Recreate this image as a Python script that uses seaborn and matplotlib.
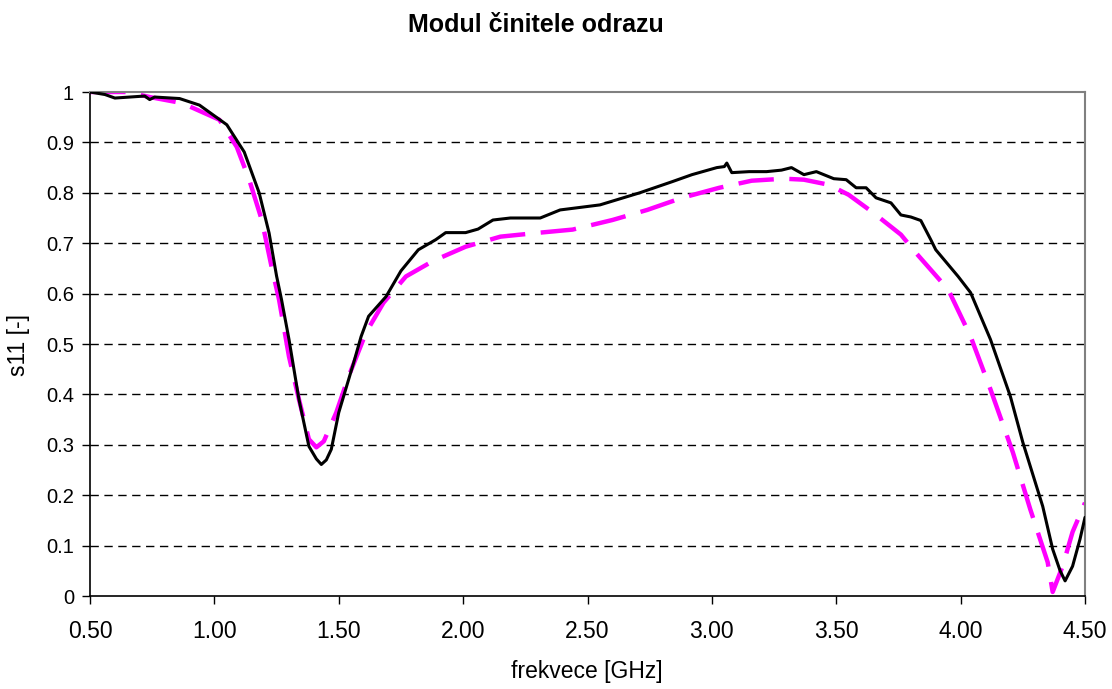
import numpy as np
import pandas as pd
import seaborn as sns
import matplotlib.pyplot as plt

# measured curve (black)
f_meas = [0.50, 0.56, 0.60, 0.66, 0.72, 0.74, 0.76, 0.86, 0.94, 1.05, 1.12, 1.18, 1.22, 1.25,
          1.27, 1.30, 1.34, 1.38, 1.41, 1.43, 1.45, 1.47, 1.50, 1.56, 1.59, 1.62, 1.69, 1.75,
          1.82, 1.89, 1.93, 2.01, 2.06, 2.12, 2.19, 2.31, 2.39, 2.55, 2.71, 2.84, 2.92,
          3.02, 3.05, 3.06, 3.08, 3.15, 3.22, 3.28, 3.32, 3.37, 3.42, 3.49, 3.54, 3.58,
          3.62, 3.66, 3.72, 3.76, 3.80, 3.84, 3.88, 3.90, 3.99, 4.04, 4.12, 4.20, 4.25,
          4.33, 4.37, 4.40, 4.42, 4.45, 4.48, 4.50]
s_meas = [1.000, 0.995, 0.988, 0.990, 0.992, 0.985, 0.990, 0.987, 0.974, 0.935, 0.881, 0.800, 0.720, 0.635,
          0.588, 0.509, 0.390, 0.297, 0.272, 0.261, 0.270, 0.291, 0.364, 0.463, 0.515, 0.555, 0.594, 0.645,
          0.687, 0.707, 0.721, 0.721, 0.728, 0.746, 0.750, 0.750, 0.766, 0.776, 0.800, 0.822, 0.836,
          0.850, 0.852, 0.859, 0.840, 0.842, 0.842, 0.845, 0.850, 0.836, 0.842, 0.828, 0.826, 0.810,
          0.810, 0.790, 0.780, 0.756, 0.752, 0.745, 0.707, 0.687, 0.634, 0.602, 0.509, 0.396, 0.305,
          0.178, 0.093, 0.050, 0.030, 0.059, 0.113, 0.156]

# simulated curve (magenta dashed)
f_sim = [0.50, 0.65, 0.74, 0.87, 1.02, 1.09, 1.14, 1.19, 1.23, 1.26, 1.30, 1.34, 1.38, 1.41,
         1.44, 1.49, 1.54, 1.61, 1.68, 1.77, 1.88, 2.01, 2.15, 2.31, 2.44, 2.60, 2.74, 2.88,
         3.03, 3.16, 3.29, 3.37, 3.47, 3.55, 3.65, 3.76, 3.82, 3.95, 4.04, 4.12, 4.21, 4.28,
         4.35, 4.37, 4.41, 4.45, 4.50]
s_sim = [1.000, 1.000, 0.990, 0.978, 0.945, 0.891, 0.826, 0.747, 0.653, 0.588, 0.475, 0.390, 0.311, 0.295,
         0.307, 0.364, 0.436, 0.523, 0.582, 0.634, 0.665, 0.693, 0.713, 0.721, 0.727, 0.746, 0.766, 0.790,
         0.810, 0.824, 0.828, 0.826, 0.816, 0.796, 0.760, 0.717, 0.681, 0.608, 0.515, 0.410, 0.285, 0.172,
         0.067, 0.008, 0.059, 0.127, 0.185]

x_ticks = [0.5, 1.0, 1.5, 2.0, 2.5, 3.0, 3.5, 4.0, 4.5]
y_ticks = [0, 0.1, 0.2, 0.3, 0.4, 0.5, 0.6, 0.7, 0.8, 0.9, 1]
y_labels = ['0', '0.1', '0.2', '0.3', '0.4', '0.5', '0.6', '0.7', '0.8', '0.9', '1']

sns.set_style('white')
plt.rcParams['font.family'] = ['Liberation Sans', 'DejaVu Sans']
plt.rcParams['text.color'] = 'black'
plt.rcParams['axes.labelcolor'] = 'black'
plt.rcParams['xtick.color'] = 'black'
plt.rcParams['ytick.color'] = 'black'

fig = plt.figure(figsize=(11.12, 6.89), dpi=100)
ax = fig.add_axes([90 / 1112, 1 - 596 / 689, 995 / 1112, 504 / 689])

# gridlines
for y in y_ticks[1:-1]:
    ax.axhline(y, color='black', lw=1, ls=(0, (6, 4)), zorder=0)

sns.lineplot(x=f_sim, y=s_sim, ax=ax, color='#ff00ff', lw=3.2, zorder=2)
ax.lines[-1].set_dashes([8, 3.5])
sns.lineplot(x=f_meas, y=s_meas, ax=ax, color='black', lw=2.2, zorder=3)

ax.set_xlim(0.5, 4.5)
ax.set_ylim(0, 1)
ax.set_xticks(x_ticks)
ax.set_xticklabels([f'{t:.2f}' for t in x_ticks])
ax.set_yticks(y_ticks)
ax.set_yticklabels(y_labels)
ax.tick_params(axis='both', direction='out', length=5.5, width=1, color='black',
               bottom=True, left=True)
ax.tick_params(axis='x', labelsize=16.5, pad=12)
ax.tick_params(axis='y', labelsize=14.5, pad=6)

for s in ['left', 'bottom']:
    ax.spines[s].set_color('black')
    ax.spines[s].set_linewidth(1.2)
for s in ['top', 'right']:
    ax.spines[s].set_color('#808080')
    ax.spines[s].set_linewidth(1.5)

fig.text(587 / 1112, 1 - 678 / 689, 'frekvece [GHz]', fontsize=16.5, ha='center', va='baseline')
fig.text(19 / 1112, 1 - 345 / 689, 's11 [-]', fontsize=16.5, ha='center', va='center', rotation=90)
fig.text(536 / 1112, 1 - 32 / 689, 'Modul činitele odrazu', fontsize=18, fontweight='bold',
         ha='center', va='baseline')

fig.savefig('out.png', dpi=100)
